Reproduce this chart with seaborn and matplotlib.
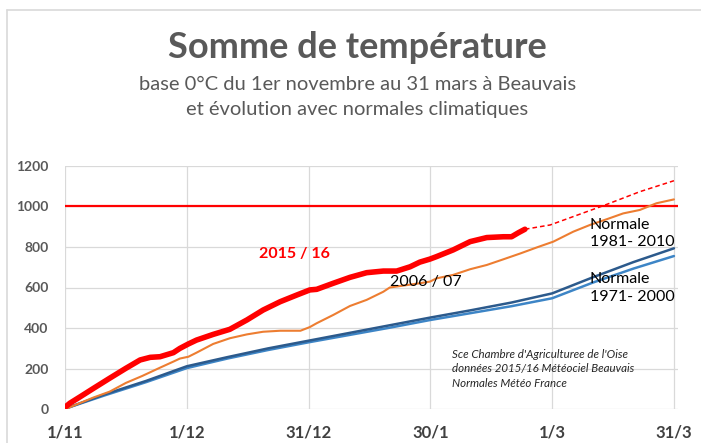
import numpy as np
import pandas as pd
import matplotlib
matplotlib.use("Agg")
import matplotlib.pyplot as plt
import seaborn as sns
from matplotlib.lines import Line2D

# ---- data (days since 1 November) ----
days_2015 = [0, 1.2, 4, 7, 11, 15, 18.5, 21, 23.4, 26.7, 28.3, 30.4, 32.4, 36.5, 40.6,
             44.8, 48.8, 53, 57.1, 60.3, 62, 66.1, 70.2, 74.3, 78.4, 81.7, 85, 87.4,
             89.9, 91.5, 95.6, 99.8, 103.9, 108, 110, 111.7, 113.3]
vals_2015 = [10, 30, 65, 103, 153, 202, 243, 256, 259, 279, 300, 322, 341, 369, 394,
             440, 489, 530, 563, 588, 591, 621, 650, 673, 681, 681, 702, 725,
             740, 752, 785, 826, 846, 850, 850, 870, 887]
days_proj = [113.3, 119.5, 133, 141.6, 150]
vals_proj = [887, 908, 1006, 1072, 1126]

days_2006 = [0, 3, 7, 11, 15, 19, 23.4, 26.7, 28.3, 30.4, 32.4, 36.5, 40.6, 44.8, 48.8,
             53, 58, 60.3, 62, 66.1, 70.2, 74.3, 78.4, 80, 82.5, 87.4, 89.9, 91.5, 95.6,
             99.8, 103.9, 108, 112.2, 116.3, 120.3, 125.2, 129.3, 133.4, 137.5, 141.6,
             145.7, 150]
vals_2006 = [0, 25, 58, 87, 130, 164, 205, 235, 250, 259, 279, 322, 350, 369, 382,
             387, 387, 405, 424, 465, 509, 539, 579, 600, 607, 621, 629, 645, 662,
             690, 711, 739, 768, 798, 826, 875, 908, 936, 965, 982,
             1015, 1034]

days_norm = [0, 10, 20, 30, 40, 50, 60, 70, 80, 90, 100, 110, 120, 130, 140, 150]
vals_8110 = [3, 75, 140, 212, 257, 300, 338, 376, 414, 452, 488, 526, 571, 650, 725, 793]
vals_7100 = [3, 70, 134, 203, 250, 292, 330, 366, 402, 440, 474, 508, 547, 624, 693, 755]

threshold = 1000
tick_days = [0, 30, 60, 90, 120, 150]
tick_labels = ["1/11", "1/12", "31/12", "30/1", "1/3", "31/3"]
y_ticks = [0, 200, 400, 600, 800, 1000, 1200]

sns.set_theme(style="white")
plt.rcParams['font.family'] = ['Lato', 'DejaVu Sans']

W, H = 701, 443
fig = plt.figure(figsize=(W / 100, H / 100), dpi=100)
ax = fig.add_axes([65 / W, 1 - 409.3 / H, (678 - 65) / W, (409.3 - 165.7) / H])

grid_c = '#d9d9d9'
for yv in y_ticks:
    ax.axhline(yv, color=grid_c, lw=0.9, zorder=0)
for xv in tick_days:
    ax.axvline(xv, color=grid_c, lw=0.9, zorder=0)

ax.axhline(threshold, color='#ff0000', lw=1.6, zorder=2)

sns.lineplot(x=days_norm, y=vals_7100, ax=ax, color='#3d85c6', lw=1.8, zorder=3)
sns.lineplot(x=days_norm, y=vals_8110, ax=ax, color='#2c5a8c', lw=1.8, zorder=3)
sns.lineplot(x=days_2006, y=vals_2006, ax=ax, color='#ed7d31', lw=1.5, zorder=4)
sns.lineplot(x=days_proj, y=vals_proj, ax=ax, color='#ff0000', lw=1.1,
             linestyle=(0, (3, 2)), zorder=5)
sns.lineplot(x=days_2015, y=vals_2015, ax=ax, color='#ff0000', lw=4.0, zorder=6)

ax.set_xlim(0, 151)
ax.set_ylim(0, 1200)
ax.set_xticks(tick_days)
ax.set_xticklabels(tick_labels)
ax.set_yticks(y_ticks)
ax.set_yticklabels([str(v) for v in y_ticks])
for s in ['top', 'right', 'left', 'bottom']:
    ax.spines[s].set_visible(False)
ax.tick_params(axis='y', length=0, pad=12, labelsize=10, labelcolor='#595959')
ax.tick_params(axis='x', length=0, pad=11, labelsize=12, labelcolor='#404040')
for lab in ax.get_xticklabels() + ax.get_yticklabels():
    lab.set_fontweight('bold')
ax.set_xlabel('')
ax.set_ylabel('')

ax.text(56.5, 767, "2015 / 16", color='#ff0000', fontsize=11.5, fontweight='bold',
        ha='center', va='center', zorder=7)
ax.text(88.9, 629, "2006 / 07", color='black', fontsize=11.5,
        ha='center', va='center', zorder=7)
ax.text(129.3, 866, "Normale\n1981- 2010", color='black', fontsize=11.5,
        ha='left', va='center', linespacing=1.3, zorder=7)
ax.text(129.3, 598, "Normale\n1971- 2000", color='black', fontsize=11.5,
        ha='left', va='center', linespacing=1.3, zorder=7)
ax.text(95.3, 199, "Sce Chambre d'Agriculturee de l'Oise\ndonnées 2015/16 Météociel Beauvais\nNormales Météo France",
        color='#262626', fontsize=8.3, style='italic', ha='left', va='center',
        linespacing=1.4, zorder=7)

fig.text(357.5 / W, 1 - 47 / H, "Somme de température", ha='center', va='center',
         fontsize=26, fontweight='bold', color='#595959')
fig.text(357.5 / W, 1 - 84 / H, "base 0°C du 1er novembre au 31 mars à Beauvais",
         ha='center', va='center', fontsize=14.5, color='#595959')
fig.text(357.5 / W, 1 - 110 / H, "et évolution avec normales climatiques",
         ha='center', va='center', fontsize=14.5, color='#595959')

fig.add_artist(Line2D([7 / W, 7 / W], [0, 1 - 10 / H], color=grid_c, lw=1.2,
                      transform=fig.transFigure))
fig.add_artist(Line2D([7 / W, 1], [1 - 10 / H, 1 - 10 / H], color=grid_c, lw=1.2,
                      transform=fig.transFigure))

fig.savefig("out.png", dpi=100)
